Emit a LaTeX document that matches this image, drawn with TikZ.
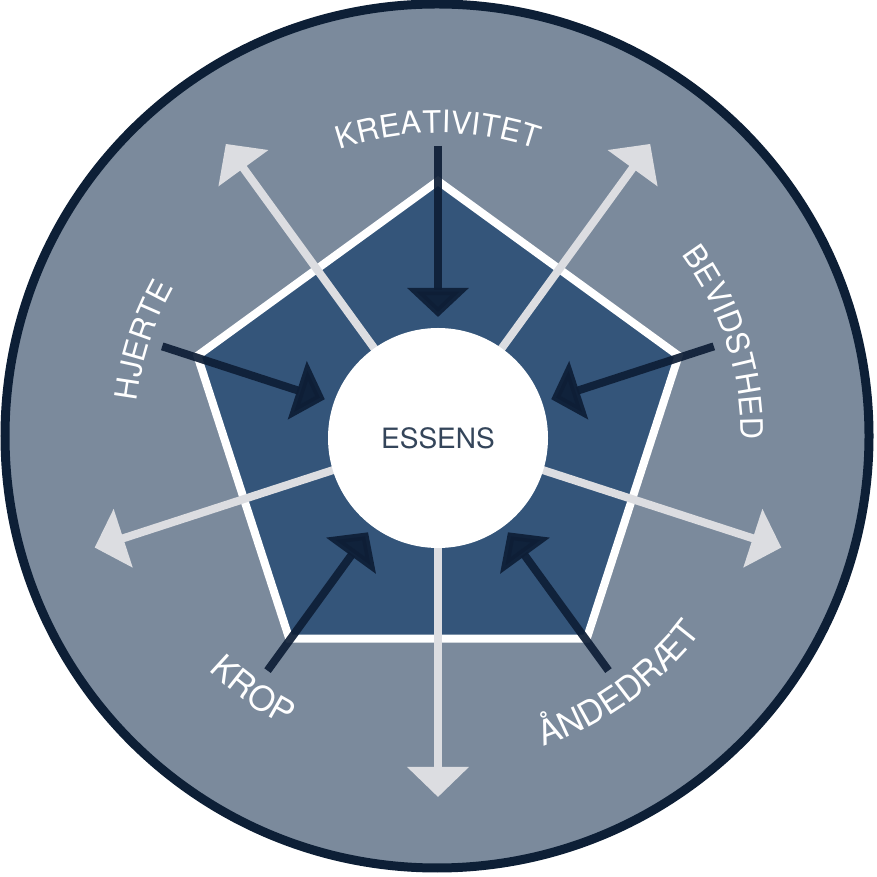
\documentclass[tikz,border=0pt]{standalone}
\usepackage{fontspec}
\setmainfont{TeX Gyre Heros}
\usetikzlibrary{arrows.meta,decorations.text,calc}
\definecolor{outerfill}{HTML}{7B8A9C}
\definecolor{outerline}{HTML}{0D1F36}
\definecolor{pentfill}{HTML}{34557A}
\definecolor{darkarrow}{HTML}{0E1E36}
\definecolor{lightarrow}{HTML}{DCDDE1}
\definecolor{essenstext}{HTML}{34455A}
\tikzset{
  lightspoke/.style={draw=lightarrow, line width=8pt, -{Triangle[width=60pt,length=30pt]}},
  darkspoke/.style={draw=darkarrow, line width=8pt, opacity=0.92, -{Triangle[width=60pt,length=29pt]}},
  outerlabel/.style={decorate, decoration={text along path, text align=center, text color=white,
      text={|\fontsize{31}{31}\selectfont|#1}}},
  lowerlabel/.style={decorate, decoration={text along path, text align=center, text color=white,
      text={|\fontsize{34}{34}\selectfont|#1}}},
}
\begin{document}
\begin{tikzpicture}[x=1pt,y=1pt]
\useasboundingbox (0,0) rectangle (877,877);
\fill[white] (0,0) rectangle (877,877);
% outer disc
\draw[fill=outerfill, draw=outerline, line width=9pt] (437,441) circle[radius=432];
\coordinate (C) at (438,441);
\coordinate (P) at (438,443);
% pentagon
\draw[fill=pentfill, draw=white, line width=8pt, line join=miter]
  ($(P)+(90:253)$) coordinate (v1) -- ($(P)+(18:253)$) coordinate (v2) -- ($(P)+(-54:253)$) coordinate (v3)
  -- ($(P)+(-126:253)$) coordinate (v4) -- ($(P)+(162:253)$) coordinate (v5) -- cycle;
% light outward arrows
\foreach \a [count=\i] in {126,54,-18,-90,198}{
  \coordinate (ls\i) at ($(C)+(\a:100)$);
  \coordinate (le\i) at ($(C)+(\a:361)$);
  \draw[lightspoke] (ls\i) -- (le\i);
}
% centre
\node[circle, fill=white, minimum size=220pt, inner sep=0pt, text=essenstext,
  font=\fontsize{28}{28}\selectfont] (essens) at (438,439) {ESSENS};
% dark inward arrows
\foreach \a [count=\i] in {90,18,-54,-126,162}{
  \coordinate (ds\i) at ($(C)+(\a:290)$);
  \coordinate (de\i) at ($(C)+(\a:119)$);
  \draw[darkspoke] (ds\i) -- (de\i);
}
% labels
\path[outerlabel={KREATIVITET}] ($(C)+(130:303)$) arc[start angle=130, end angle=50, radius=303];
\path[outerlabel={BEVIDSTHED}] ($(C)+(63:303)$) arc[start angle=63, end angle=-27, radius=303];
\path[outerlabel={HJERTE}] ($(C)+(207:303)$) arc[start angle=207, end angle=117, radius=303];
\path[lowerlabel={KROP}] ($(C)+(-166:328)$) arc[start angle=-166, end angle=-86, radius=328];
\path[lowerlabel={ÅNDEDRÆT}] ($(C)+(-94:328)$) arc[start angle=-94, end angle=-14, radius=328];
\end{tikzpicture}
\end{document}
